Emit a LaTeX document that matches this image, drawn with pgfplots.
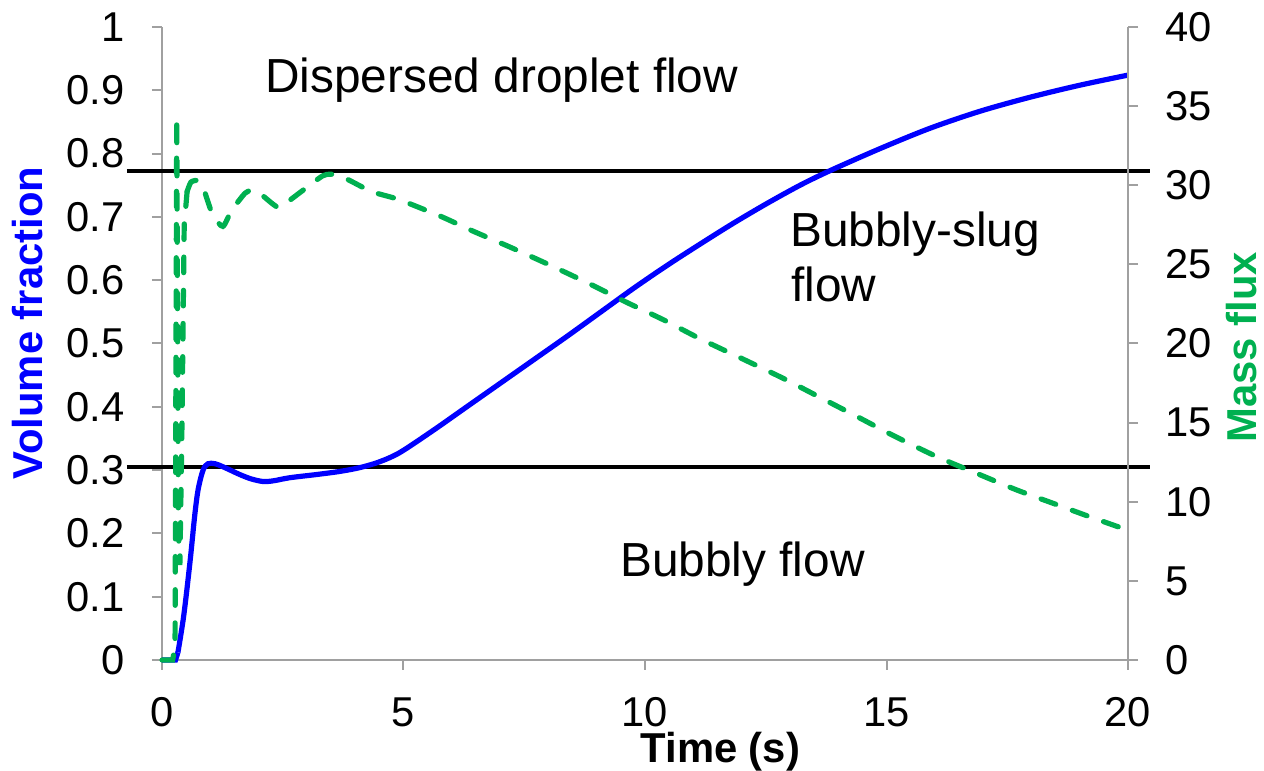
\documentclass[border=0pt]{standalone}
\usepackage{pgfplots}
\pgfplotsset{compat=1.18}
\usepackage{fontspec}
\setmainfont{Liberation Sans}
\definecolor{axgray}{RGB}{160,160,160}
\definecolor{mygreen}{RGB}{0,176,80}
\definecolor{myblue}{RGB}{0,0,255}
\newcommand{\tickfont}{\fontsize{20.85}{24}\selectfont}
\newcommand{\annfont}{\fontsize{23.9}{27.5}\selectfont}
\newcommand{\labfont}{\fontsize{20.9}{24}\selectfont\bfseries}
\begin{document}
\begin{tikzpicture}
\useasboundingbox (-81pt,-55.5pt) rectangle (551pt,330pt);
\begin{axis}[
  at={(0,0)}, anchor=south west,
  scale only axis, width=483pt, height=316.5pt,
  xmin=0, xmax=20, ymin=0, ymax=1,
  axis x line*=bottom, axis y line*=left,
  axis line style={draw=axgray, line width=1pt},
  tick style={draw=axgray, line width=1pt},
  tick align=outside, major tick length=5pt,
  xtick={0,5,10,15,20},
  ytick={0,0.1,0.2,0.3,0.4,0.5,0.6,0.7,0.8,0.9,1},
  yticklabels={0,0.1,0.2,0.3,0.4,0.5,0.6,0.7,0.8,0.9,1},
  xticklabels={0,5,10,15,20},
  tick label style={font=\tickfont},
  yticklabel style={anchor=east, inner sep=0pt, xshift=-13.5pt},
  xticklabel style={anchor=north, inner sep=0pt, yshift=-13.5pt},
  /pgf/number format/assume math mode=true,
  clip=false,
]
\addplot[black, line width=2pt] coordinates {(-0.725,0.773) (20.45,0.773)};
\addplot[black, line width=2pt] coordinates {(-0.725,0.305) (20.45,0.305)};
\addplot[myblue, line width=2.6pt, sharp plot] coordinates {(0,0) (0.28,0) (0.33,0.012)};
\addplot[myblue, line width=2.6pt, smooth, tension=0.5] coordinates {
(0.33,0.012) (0.45,0.07) (0.58,0.155) (0.68,0.23) (0.75,0.27)
(0.85,0.300) (0.95,0.31) (1.1,0.31) (1.3,0.304) (1.61,0.293) (1.85,0.286)
(2.09,0.282) (2.3,0.283) (2.65,0.288) (3.2,0.293) (3.69,0.298) (4.1,0.304)
(4.5,0.313) (4.93,0.328) (5.62,0.363) (6.31,0.400) (7.0,0.437) (7.69,0.474)
(8.38,0.511) (9.07,0.549) (9.76,0.587) (10.45,0.623) (11.14,0.657) (11.83,0.690)
(12.52,0.721) (13.21,0.750) (13.83,0.773) (14.87,0.808) (15.9,0.840)
(16.94,0.867) (17.97,0.889) (19.0,0.908) (20,0.924)};
\node[anchor=base west, inner sep=0pt, font=\annfont] at (axis cs:2.13,0.896) {Dispersed droplet flow};
\node[anchor=base west, inner sep=0pt, font=\annfont] at (axis cs:13.0,0.653) {Bubbly-slug};
\node[anchor=base west, inner sep=0pt, font=\annfont] at (axis cs:13.02,0.566) {flow};
\node[anchor=base west, inner sep=0pt, font=\annfont] at (axis cs:9.48,0.1316) {Bubbly flow};
\node[rotate=90, anchor=center, inner sep=0pt, font=\labfont, text=myblue] at (rel axis cs:-0.139,0.532) {Volume fraction};
\node[anchor=center, inner sep=0pt, font=\labfont] at (rel axis cs:0.578,-0.145) {Time (s)};
\end{axis}
\begin{axis}[
  at={(0,0)}, anchor=south west,
  scale only axis, width=483pt, height=316.5pt,
  xmin=0, xmax=20, ymin=0, ymax=40,
  axis x line=none, axis y line*=right,
  axis line style={draw=axgray, line width=1pt},
  tick style={draw=axgray, line width=1pt},
  tick align=outside, major tick length=5pt,
  ytick={0,5,10,15,20,25,30,35,40},
  yticklabels={0,5,10,15,20,25,30,35,40},
  tick label style={font=\tickfont},
  yticklabel style={anchor=west, inner sep=0pt, xshift=13.5pt},
  clip=false,
]
\addplot[mygreen, line width=2.6pt, line cap=round, dash pattern=on 7.8pt off 8.8pt, sharp plot] coordinates {
(0,0) (0.22,0) (0.25,0.5) (0.27,0.5) (0.305,34.3) (0.34,8) (0.37,6) (0.41,14) (0.46,27.5) (0.52,29.6)};
\addplot[mygreen, line width=2.6pt, line cap=round, dash pattern=on 7.8pt off 8.8pt, smooth, tension=0.4] coordinates {
(0.52,29.6) (0.6,30.2) (0.745,30.3) (0.85,29.9) (0.925,29.2) (1.056,28.1)
(1.26,27.4) (1.44,28.4) (1.72,29.5) (1.88,29.7) (2.06,29.4) (2.3,28.8)
(2.44,28.6) (2.71,29.2) (3.10,30.1) (3.33,30.6) (3.5,30.7) (3.82,30.4)
(4.34,29.6) (4.9,29.1) (5.76,28.05) (6.44,27.1) (7.2,26.1) (8.07,24.9)
(8.9,23.7) (9.62,22.6) (10.38,21.5) (11.14,20.3) (11.97,19.1) (12.86,17.8)
(13.62,16.6) (14.38,15.4) (15.13,14.2) (16.04,12.85) (16.94,11.7) (17.7,10.74)
(18.45,9.9) (19.2,9.06) (20,8.2)};
\node[rotate=90, anchor=center, inner sep=0pt, font=\labfont, text=mygreen] at (rel axis cs:1.118,0.494) {Mass flux};
\end{axis}
\end{tikzpicture}
\end{document}
